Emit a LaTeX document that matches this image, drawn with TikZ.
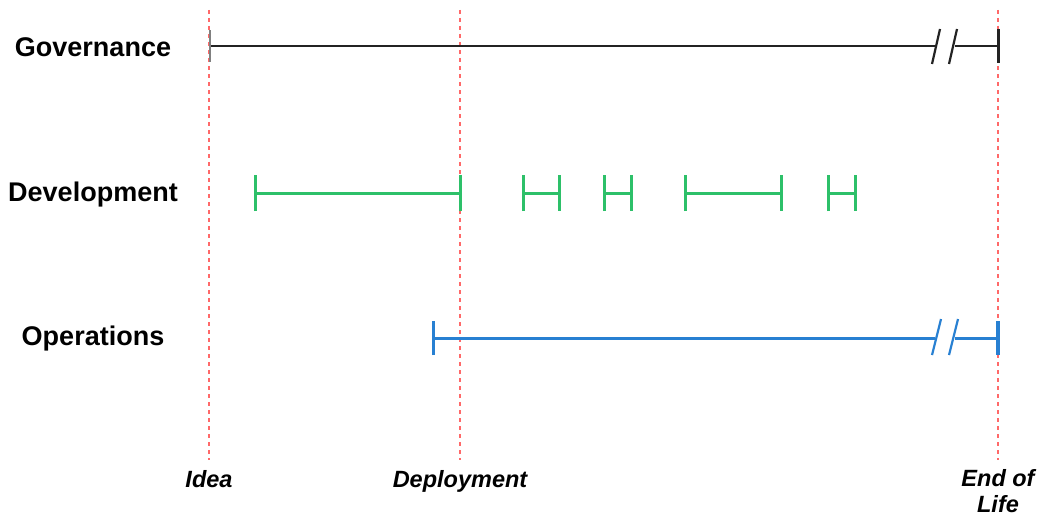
\documentclass[tikz,border=0pt]{standalone}
\usepackage{fontspec}
\setmainfont{Liberation Sans}
\usetikzlibrary{arrows.meta}
\definecolor{guide}{RGB}{255,105,105}
\definecolor{devgreen}{RGB}{45,192,105}
\definecolor{opsblue}{RGB}{40,128,210}
\definecolor{govgray}{RGB}{35,35,35}
\tikzset{
  guideline/.style={guide, line width=1.6pt, dash pattern=on 4pt off 4pt},
  rowlabel/.style={font=\fontsize{27}{30}\selectfont\bfseries, anchor=center},
  milestone/.style={font=\fontsize{23.5}{26}\selectfont\bfseries\itshape, align=center, anchor=north},
  govbar/.style={govgray, line width=2.6pt},
  devbar/.style={devgreen, line width=3pt, {Bar[width=36pt]}-{Bar[width=36pt]}},
  opsbar/.style={opsblue, line width=3pt},
  breakmark/.style={line width=2.2pt},
}
\begin{document}
\begin{tikzpicture}[x=1pt,y=-1pt]
\useasboundingbox (0,0) rectangle (1040,519);
\fill[white] (0,0) rectangle (1040,519);

% milestone guides
\coordinate (ideaT) at (209,10);   \coordinate (ideaB) at (209,460);
\coordinate (depT)  at (460,10);   \coordinate (depB)  at (460,460);
\coordinate (eolT)  at (998,10);   \coordinate (eolB)  at (998,460);
\draw[guideline] (ideaT) -- (ideaB);
\draw[guideline] (depT) -- (depB);
\draw[guideline] (eolT) -- (eolB);

% row labels
\node[rowlabel] (gov) at (93,47) {Governance};
\node[rowlabel] (dev) at (93,195) {Development};
\node[rowlabel] (ops) at (93,339) {Operations};

% milestone labels
\node[milestone] (idea) at (209,467) {Idea};
\node[milestone] (dep) at (460,467) {Deployment};
\node[milestone, inner sep=2pt] (eol) at (998,467) {End of\\Life};

% governance span with break
\coordinate (g0) at (208.5,46);
\coordinate (g1) at (935,46);
\coordinate (g2) at (955,46);
\coordinate (g3) at (999.5,46);
\draw[govbar, {Bar[width=32pt,line width=2pt,color=gray]}-] (g0) -- (g1);
\draw[govbar, -{Bar[width=34pt]}] (g2) -- (g3);
\draw[govgray, breakmark] (932,64) -- (940,29);
\draw[govgray, breakmark] (949,64) -- (957,29);

% development iterations
\foreach \a/\b [count=\i] in {253.5/461.5, 521.5/560.5, 602.5/632.5, 683.5/782.5, 826.5/856.5}{
  \coordinate (d\i a) at (\a,193);
  \coordinate (d\i b) at (\b,193);
  \draw[devbar] (d\i a) -- (d\i b);
}

% operations span with break
\coordinate (o0) at (432,338);
\coordinate (o1) at (935,338);
\coordinate (o2) at (955,338);
\coordinate (o3) at (1000,338);
\draw[opsbar, {Bar[width=34pt]}-] (o0) -- (o1);
\draw[opsbar, -{Bar[width=34pt,line width=4pt]}] (o2) -- (o3);
\draw[opsblue, breakmark] (932,355) -- (941,319);
\draw[opsblue, breakmark] (949,355) -- (958,319);
\end{tikzpicture}
\end{document}
